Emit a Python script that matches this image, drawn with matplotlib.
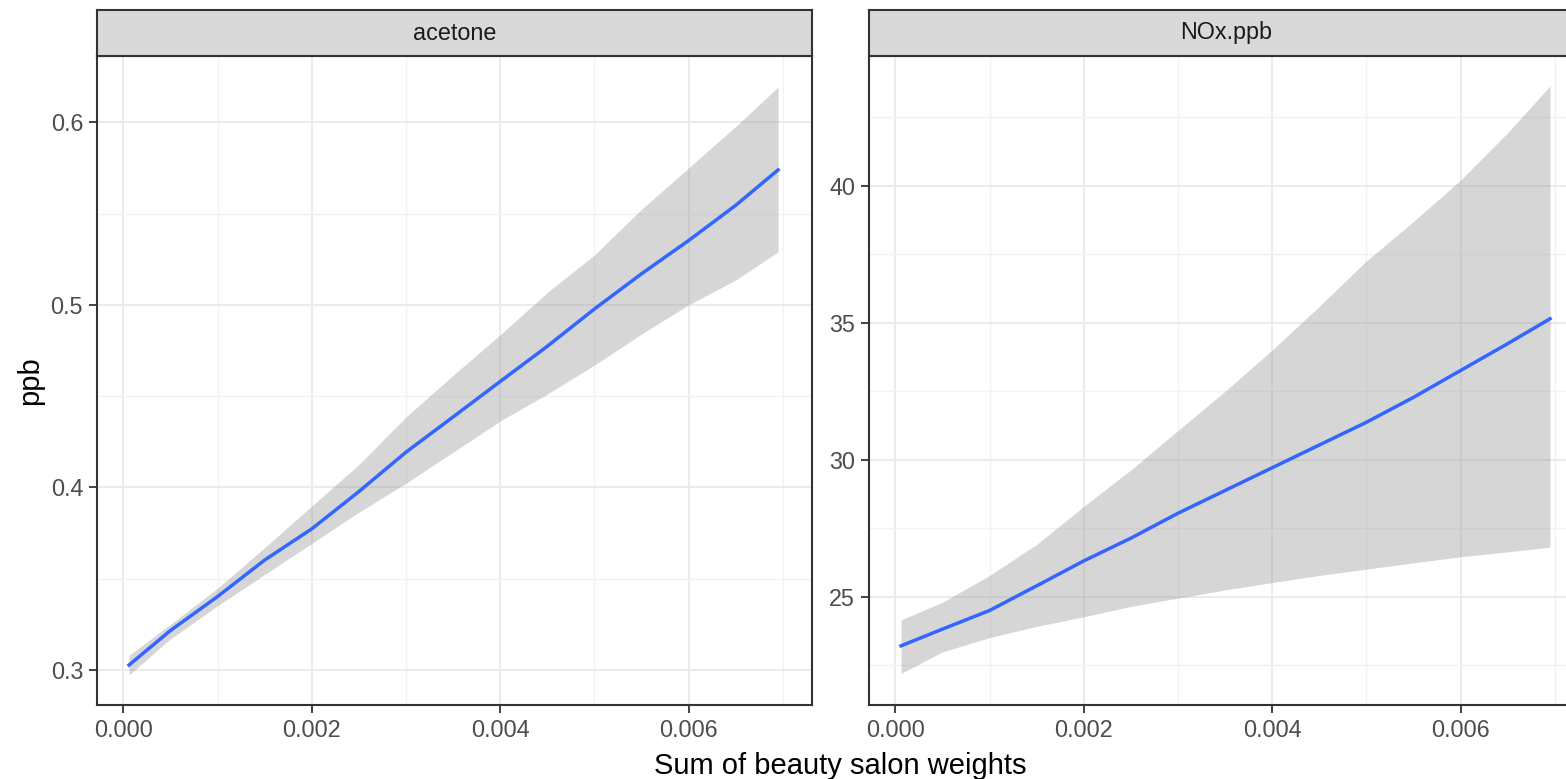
import numpy as np
import matplotlib.pyplot as plt
from matplotlib.ticker import MultipleLocator

plt.rcParams['font.family'] = ['Liberation Sans', 'DejaVu Sans']

# smoothed fit with confidence band
x = [0.00006, 0.0005, 0.001, 0.0015, 0.002, 0.0025, 0.003, 0.0035,
     0.004, 0.0045, 0.005, 0.0055, 0.006, 0.0065, 0.00695]

acetone_fit = [0.3027, 0.3216, 0.3402, 0.3602, 0.3773, 0.3977, 0.4193, 0.4386,
               0.4580, 0.4773, 0.4977, 0.5170, 0.5352, 0.5545, 0.5739]
acetone_hi = [0.3080, 0.3250, 0.3448, 0.3670, 0.3898, 0.4125, 0.4386, 0.4614,
              0.4836, 0.5068, 0.5273, 0.5523, 0.5750, 0.5977, 0.6193]
acetone_lo = [0.2973, 0.3170, 0.3352, 0.3523, 0.3693, 0.3864, 0.4023, 0.4193,
              0.4364, 0.4511, 0.4670, 0.4840, 0.5000, 0.5136, 0.5291]

nox_fit = [23.20, 23.81, 24.49, 25.39, 26.30, 27.13, 28.04, 28.87,
           29.70, 30.53, 31.36, 32.27, 33.25, 34.23, 35.14]
nox_hi = [24.15, 24.79, 25.77, 26.90, 28.29, 29.62, 31.06, 32.49,
          34.00, 35.59, 37.25, 38.69, 40.20, 41.93, 43.64]
nox_lo = [22.19, 22.98, 23.50, 23.91, 24.26, 24.64, 24.94, 25.24,
          25.51, 25.77, 26.00, 26.23, 26.45, 26.63, 26.80]

panels = ['acetone', 'NOx.ppb']
xticks = [0.000, 0.002, 0.004, 0.006]
xtick_labels = ['0.000', '0.002', '0.004', '0.006']

W, H = 1566, 779
fig = plt.figure(figsize=(W / 100, H / 100), dpi=100)

dark = '#333333'
tick_col = '#4D4D4D'
fs = 16.8

def panel(left_px, name, fit, lo, hi, ylim, major, minor):
    ax = fig.add_axes([left_px / W, 74 / H, 715 / W, 649 / H])
    ax.fill_between(x, lo, hi, color='#999999', alpha=0.4, linewidth=0, zorder=2)
    ax.plot(x, fit, color='#3366FF', linewidth=2.5, zorder=3,
            solid_joinstyle='round')
    ax.set_xlim(-0.00028, 0.00731)
    ax.set_ylim(*ylim)
    ax.set_xticks(xticks)
    ax.set_xticklabels(xtick_labels)
    ax.xaxis.set_minor_locator(MultipleLocator(0.001))
    ax.yaxis.set_major_locator(MultipleLocator(major))
    ax.yaxis.set_minor_locator(MultipleLocator(minor))
    ax.grid(which='major', color='#EBEBEB', linewidth=1.4, zorder=0)
    ax.grid(which='minor', color='#F2F2F2', linewidth=1.0, zorder=0)
    ax.set_axisbelow(True)
    ax.tick_params(which='major', length=6, width=1.3, color=dark,
                   labelsize=fs, labelcolor=tick_col, pad=4)
    ax.tick_params(which='minor', length=0)
    for s in ax.spines.values():
        s.set_color(dark)
        s.set_linewidth(1.5)
    # facet strip
    st = fig.add_axes([left_px / W, (H - 56) / H, 715 / W, 46 / H])
    st.set_facecolor('#D9D9D9')
    st.set_xticks([])
    st.set_yticks([])
    for s in st.spines.values():
        s.set_color(dark)
        s.set_linewidth(1.5)
    st.text(0.5, 0.5, name, ha='center', va='center', fontsize=fs,
            color='#1A1A1A', transform=st.transAxes)
    return ax

ax1 = panel(97, panels[0], acetone_fit, acetone_lo, acetone_hi,
            (0.2808, 0.6363), 0.1, 0.05)
ax2 = panel(869, panels[1], nox_fit, nox_lo, nox_hi,
            (21.04, 44.73), 5, 2.5)

fig.text(840 / W, 1 - 766 / H, 'Sum of beauty salon weights', ha='center',
         va='center', fontsize=21, color='black')
fig.text(30 / W, 1 - 381 / H, 'ppb', ha='center', va='center', rotation=90,
         fontsize=21, color='black')

fig.savefig('out.png', dpi=100)
